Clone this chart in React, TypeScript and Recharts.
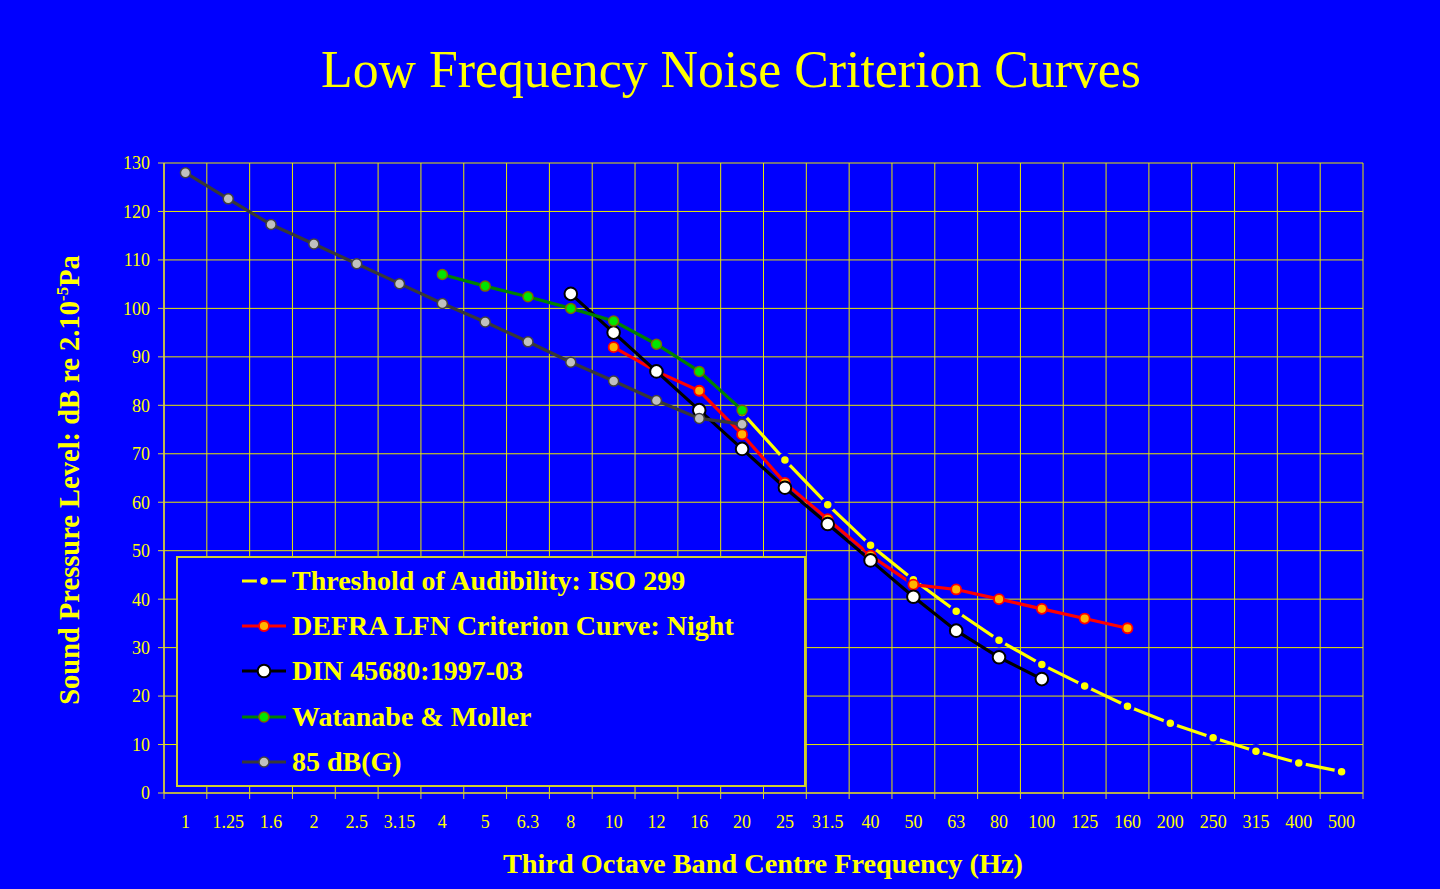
import { CartesianGrid, Legend, Line, LineChart, XAxis, YAxis } from "recharts";

const frequencies = ["1", "1.25", "1.6", "2", "2.5", "3.15", "4", "5", "6.3", "8", "10", "12", "16", "20", "25", "31.5", "40", "50", "63", "80", "100", "125", "160", "200", "250", "315", "400", "500"];

// one value per third octave band, null where the curve has no point
const isoThreshold = [null, null, null, null, null, null, null, null, null, null, null, null, null, 78.5, 68.7, 59.5, 51.1, 44.0, 37.5, 31.5, 26.5, 22.1, 17.9, 14.4, 11.4, 8.6, 6.2, 4.4];
const defraNight = [null, null, null, null, null, null, null, null, null, null, 92, 87, 83, 74, 64, 56.5, 49, 43, 42, 40, 38, 36, 34, null, null, null, null, null];
const din45680 = [null, null, null, null, null, null, null, null, null, 103, 95, 87, 79, 71, 63, 55.5, 48, 40.5, 33.5, 28, 23.5, null, null, null, null, null, null, null];
const watanabeMoller = [null, null, null, null, null, null, 107, 104.6, 102.4, 100, 97.4, 92.6, 87, 79, null, null, null, null, null, null, null, null, null, null, null, null, null, null];
const g85 = [128, 122.6, 117.3, 113.3, 109.2, 105.1, 101, 97.2, 93.1, 88.9, 85, 81, 77.3, 76.1, null, null, null, null, null, null, null, null, null, null, null, null, null, null];

const rows = frequencies.map((f, i) => ({
  i,
  f,
  iso: isoThreshold[i],
  defra: defraNight[i],
  din: din45680[i],
  wat: watanabeMoller[i],
  g85: g85[i],
}));

const YELLOW = "#FFFF00";
const BLUE = "#0000FF";
const FONT = "'Liberation Serif', 'Times New Roman', serif";

const series = [
  { key: "iso", name: "Threshold of Audibility: ISO 299", stroke: YELLOW, dot: { r: 5.5, fill: YELLOW, stroke: BLUE, strokeWidth: 3.5 } },
  { key: "defra", name: "DEFRA LFN Criterion Curve: Night", stroke: "#FF0000", dot: { r: 5, fill: "#FFB400", stroke: "#FF0000", strokeWidth: 1.8 } },
  { key: "din", name: "DIN 45680:1997-03", stroke: "#000000", dot: { r: 6.3, fill: "#FFFFFF", stroke: "#000000", strokeWidth: 2 } },
  { key: "wat", name: "Watanabe & Moller", stroke: "#008000", dot: { r: 5, fill: "#00E600", stroke: "#7A6A00", strokeWidth: 1.5 } },
  { key: "g85", name: "85 dB(G)", stroke: "#383838", dot: { r: 5, fill: "#C0C0C0", stroke: "#404040", strokeWidth: 1.5 } },
];

const boundaries = Array.from({ length: frequencies.length + 1 }, (_, k) => k - 0.5);
const centres = frequencies.map((_, i) => i);
const yMajor = Array.from({ length: 14 }, (_, k) => k * 10);
const yMinor = Array.from({ length: 131 }, (_, k) => k);

function LegendBox() {
  return (
    <div
      style={{
        boxSizing: "border-box",
        width: 630,
        height: 231,
        background: BLUE,
        border: "2px solid #D0D030",
        paddingTop: 0,
      }}
    >
      {series.map((s) => (
        <div key={s.key} style={{ display: "flex", alignItems: "center", height: 45.3, paddingLeft: 62 }}>
          <svg width={48} height={20} style={{ marginRight: 4 }}>
            <line x1={2} y1={10} x2={46} y2={10} stroke={s.stroke} strokeWidth={3} />
            <circle cx={24} cy={10} r={s.dot.r} fill={s.dot.fill} stroke={s.dot.stroke} strokeWidth={s.dot.strokeWidth} />
          </svg>
          <span style={{ color: YELLOW, fontFamily: FONT, fontWeight: "bold", fontSize: 28, whiteSpace: "nowrap" }}>{s.name}</span>
        </div>
      ))}
    </div>
  );
}

export default function App() {
  return (
    <div style={{ position: "absolute", left: 0, top: 0, width: 1440, height: 889, background: BLUE, overflow: "hidden" }}>
      <LineChart width={1440} height={889} data={rows} margin={{ top: 163, right: 77, left: 0, bottom: 46 }}>
        <CartesianGrid stroke="#E8E800" strokeWidth={1} />
        <XAxis
          type="number"
          dataKey="i"
          domain={[-0.5, frequencies.length - 0.5]}
          ticks={boundaries}
          interval={0}
          height={10}
          tickSize={6}
          tickFormatter={() => ""}
          stroke="#C8C040"
          axisLine={{ stroke: "#C8C040", strokeWidth: 1.5 }}
          tickLine={{ stroke: "#D8D040" }}
        />
        <XAxis
          xAxisId="labels"
          type="number"
          dataKey="i"
          domain={[-0.5, frequencies.length - 0.5]}
          ticks={centres}
          interval={0}
          height={40}
          tickSize={0}
          tickMargin={12}
          axisLine={false}
          tickLine={false}
          tickFormatter={(v: number) => frequencies[v] ?? ""}
          tick={{ fill: YELLOW, fontSize: 18, fontFamily: FONT }}
        />
        <YAxis
          type="number"
          domain={[0, 130]}
          ticks={yMajor}
          interval={0}
          width={164}
          tickSize={6}
          tickMargin={8}
          axisLine={{ stroke: "#D8D040", strokeWidth: 1.5 }}
          tickLine={{ stroke: "#D8D040" }}
          tick={{ fill: YELLOW, fontSize: 18, fontFamily: FONT }}
        />
        <YAxis
          yAxisId="minor"
          type="number"
          domain={[0, 130]}
          ticks={yMinor}
          interval={0}
          mirror
          width={0}
          tickSize={4}
          axisLine={false}
          tickLine={{ stroke: "#D8D040" }}
          tickFormatter={() => ""}
        />
        <Legend
          layout="vertical"
          align="center"
          verticalAlign="middle"
          content={() => <LegendBox />}
          wrapperStyle={{ left: 176, top: 556, width: 630, height: 231 }}
        />
        {series.map((s) => (
          <Line
            key={s.key}
            dataKey={s.key}
            name={s.name}
            type="linear"
            stroke={s.stroke}
            strokeWidth={3.2}
            dot={s.dot}
            activeDot={false}
            connectNulls={false}
            isAnimationActive={false}
          />
        ))}
      </LineChart>
      <svg width={1440} height={889} style={{ position: "absolute", left: 0, top: 0, pointerEvents: "none" }}>
        <text x={731} y={87} textAnchor="middle" fill={YELLOW} fontFamily={FONT} fontSize={51.8}>
          Low Frequency Noise Criterion Curves
        </text>
        <text x={763} y={873} textAnchor="middle" fill={YELLOW} fontFamily={FONT} fontSize={28.3} fontWeight="bold">
          Third Octave Band Centre Frequency (Hz)
        </text>
        <text
          x={0}
          y={0}
          transform="translate(79 480) rotate(-90)"
          textAnchor="middle"
          fill={YELLOW}
          fontFamily={FONT}
          fontSize={28.5}
          fontWeight="bold"
        >
          Sound Pressure Level: dB re 2.10
          <tspan dy={-11} fontSize={17}>-5</tspan>
          <tspan dy={11}>Pa</tspan>
        </text>
      </svg>
    </div>
  );
}
